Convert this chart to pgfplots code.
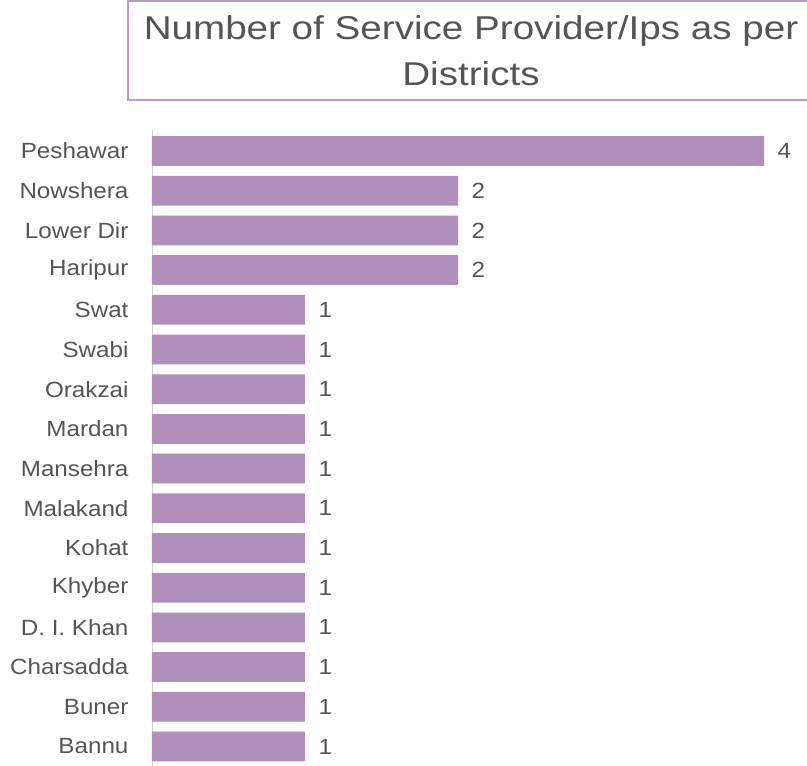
\documentclass[border=0pt]{standalone}
\usepackage{pgfplots}
\pgfplotsset{compat=1.18}
\usepackage{fontspec}
\setmainfont{Liberation Sans}
\newfontfamily\lblfont[FakeStretch=1.1]{Liberation Sans}
\newfontfamily\ttlfont[FakeStretch=1.17]{Liberation Sans}
\definecolor{barcol}{RGB}{176,143,186}
\definecolor{boxcol}{RGB}{185,155,196}
\definecolor{txt}{RGB}{85,85,85}
\begin{document}
\begin{tikzpicture}
  \useasboundingbox (0,0) rectangle (807pt,-766pt);
  % title box
  \draw[boxcol, line width=1.6pt] (128pt,-1pt) rectangle (830pt,-100pt);
  \node[anchor=base, text=txt, font=\ttlfont\fontsize{33}{36}\selectfont]
    at (471pt,-39pt) {Number of Service Provider/Ips as per};
  \node[anchor=base, text=txt, font=\ttlfont\fontsize{33}{36}\selectfont]
    at (471pt,-85pt) {Districts};

  \begin{axis}[
      at={(152pt,-746.5pt)}, anchor=origin,
      x=153pt, y=39.7pt,
      xbar, bar width=0.75,
      xmin=0, xmax=4.2,
      ymin=-0.6, ymax=15.53,
      axis x line=none,
      axis y line*=left,
      y axis line style={-, draw=gray!35, line width=0.8pt},
      ytick={0,...,15},
      yticklabels={Bannu,Buner,Charsadda,D. I. Khan,Khyber,Kohat,Malakand,Mansehra,
                   Mardan,Orakzai,Swabi,Swat,Haripur,Lower Dir,Nowshera,Peshawar},
      major tick length=0pt,
      yticklabel style={font=\lblfont\fontsize{22}{24}\selectfont, text=txt,
                        xshift=-20pt},
      /pgf/number format/assume math mode=true,
      nodes near coords,
      nodes near coords style={font=\lblfont\fontsize{22}{24}\selectfont,
                               text=txt, anchor=west, xshift=10pt},
      clip=false,
    ]
    \addplot[draw=none, fill=barcol] coordinates {
      (1,0) (1,1) (1,2) (1,3) (1,4) (1,5) (1,6) (1,7)
      (1,8) (1,9) (1,10) (1,11) (2,12) (2,13) (2,14) (4,15)
    };
  \end{axis}
\end{tikzpicture}
\end{document}
